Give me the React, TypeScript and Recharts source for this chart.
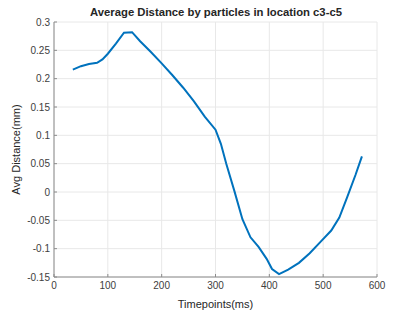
import React from 'react';
import { LineChart, Line, XAxis, YAxis, CartesianGrid } from 'recharts';

const timepoints = [35, 50, 65, 80, 90, 100, 115, 130, 145, 160, 180, 200, 220, 240, 260, 280, 300, 310, 320, 335, 350, 365, 380, 395, 405, 418, 435, 455, 475, 495, 515, 530, 545, 560, 572];
const avgDistance = [0.216, 0.222, 0.226, 0.228, 0.234, 0.244, 0.262, 0.281, 0.282, 0.266, 0.247, 0.227, 0.206, 0.184, 0.160, 0.133, 0.110, 0.085, 0.050, 0.002, -0.048, -0.080, -0.097, -0.118, -0.136, -0.145, -0.137, -0.125, -0.108, -0.088, -0.068, -0.045, -0.008, 0.030, 0.063];
const xTicks = [0, 100, 200, 300, 400, 500, 600];
const yTicks = [-0.15, -0.1, -0.05, 0, 0.05, 0.1, 0.15, 0.2, 0.25, 0.3];

const data = timepoints.map((t, i) => ({ t, v: avgDistance[i] }));

const FONT = '"Liberation Sans", Arial, Helvetica, sans-serif';
const AXIS = '#8c8c8c';
const TXT = '#404040';

const fmtY = (v: number) => {
  const r = Math.round(v * 100) / 100;
  return String(r);
};

const Empty = () => <g />;

export default function App() {
  return (
    <div style={{ position: 'absolute', left: 0, top: 0, width: 400, height: 316, background: '#fff', fontFamily: FONT }}>
      <LineChart width={400} height={316} data={data} margin={{ top: 22, right: 23, left: 0, bottom: 0 }}>
        <CartesianGrid stroke="#e8e8e8" strokeWidth={1} horizontalValues={yTicks} verticalValues={xTicks} />
        <XAxis
          dataKey="t"
          type="number"
          domain={[0, 600]}
          ticks={xTicks}
          height={39}
          stroke={AXIS}
          tickSize={-3}
          tickMargin={8}
          tick={{ fill: TXT, fontSize: 10, fontFamily: FONT }}
          label={{ value: 'Timepoints(ms)', position: 'insideBottom', offset: 8, fill: '#262626', fontSize: 11, fontFamily: FONT }}
        />
        <XAxis
          xAxisId="top"
          orientation="top"
          type="number"
          domain={[0, 600]}
          ticks={xTicks}
          height={0}
          stroke={AXIS}
          tickSize={-3}
          tick={Empty}
        />
        <YAxis
          type="number"
          domain={[-0.15, 0.3]}
          ticks={yTicks}
          width={54}
          stroke={AXIS}
          tickSize={-3}
          tickMargin={7}
          tickFormatter={fmtY}
          tick={{ fill: TXT, fontSize: 10, fontFamily: FONT }}
          label={{ value: 'Avg Distance(mm)', angle: -90, position: 'insideLeft', offset: 16, style: { textAnchor: 'middle' }, fill: '#262626', fontSize: 11, fontFamily: FONT }}
        />
        <YAxis
          yAxisId="right"
          orientation="right"
          type="number"
          domain={[-0.15, 0.3]}
          ticks={yTicks}
          width={0}
          stroke={AXIS}
          tickSize={-3}
          tick={Empty}
        />
        <Line
          type="linear"
          dataKey="v"
          stroke="#0072BD"
          strokeWidth={2}
          dot={false}
          isAnimationActive={false}
        />
        <text x={216} y={16} textAnchor="middle" fontFamily={FONT} fontSize={11.3} fontWeight="bold" fill="#262626">
          Average Distance by particles in location c3-c5
        </text>
      </LineChart>
    </div>
  );
}
